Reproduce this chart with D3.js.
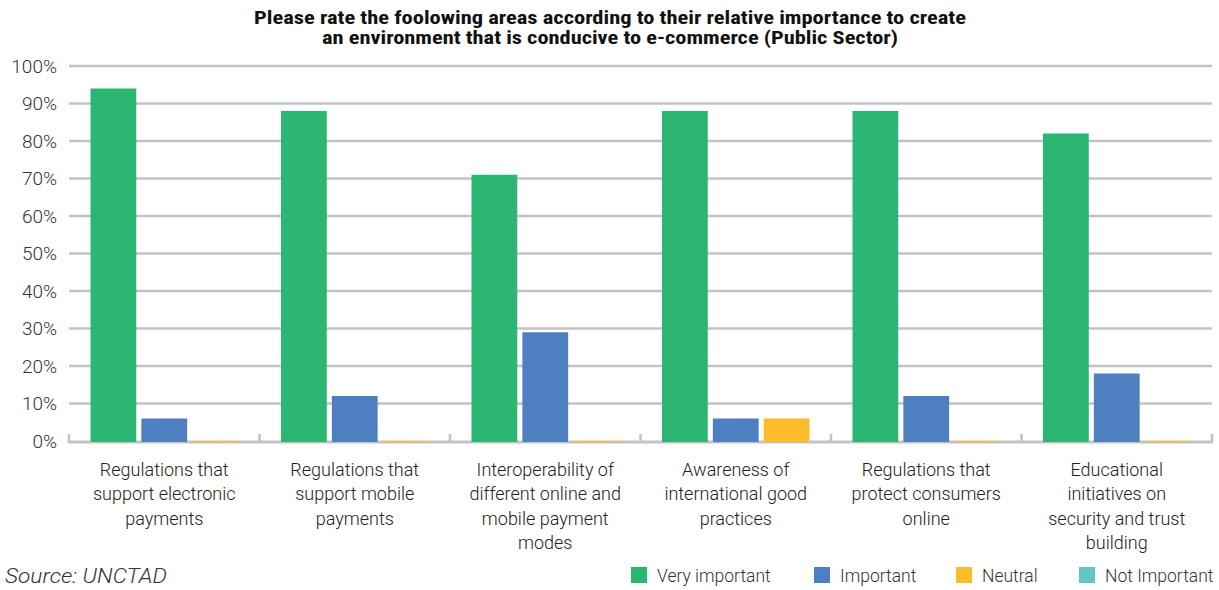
<!DOCTYPE html>
<html>
<head>
<meta charset="utf-8">
<script src="https://cdn.jsdelivr.net/npm/d3@7"></script>
<style>
  html, body { margin: 0; padding: 0; background: #fff; }
  svg { display: block; }
</style>
</head>
<body>
<svg id="chart" width="1219" height="590"></svg>
<script>
// Survey categories (label lines) and share of respondents per rating
const categories = [
  ["Regulations that", "support electronic", "payments"],
  ["Regulations that", "support mobile", "payments"],
  ["Interoperability of", "different online and", "mobile payment", "modes"],
  ["Awareness of", "international good", "practices"],
  ["Regulations that", "protect consumers", "online"],
  ["Educational", "initiatives on", "security and trust", "building"]
];
const veryImportant = [94, 88, 71, 88, 88, 82];
const important     = [6, 12, 29, 6, 12, 18];
const neutral       = [0, 0, 0, 6, 0, 0];
const legendLabels  = ["Very important", "Important", "Neutral", "Not Important"];
const yTicks        = [0, 10, 20, 30, 40, 50, 60, 70, 80, 90, 100];
const titleLines = [
  "Please rate the foolowing areas according to their relative importance to create",
  "an environment that is conducive to e-commerce (Public Sector)"
];
const sourceText = "Source: UNCTAD";

const colors = ["#2bb673", "#4e7fc1", "#fdbd2b", "#62c7c6"];
const series = [veryImportant, important, neutral];

const svg = d3.select("#chart");
const bodyFont = "Roboto, 'Liberation Sans', sans-serif";
const margin = { left: 69, right: 7, top: 66, bottom: 149 };
const W = 1219, H = 590;
const plotW = W - margin.left - margin.right;
const plotH = H - margin.top - margin.bottom;

const x0 = d3.scaleBand().domain(d3.range(categories.length))
  .range([margin.left, margin.left + plotW]).paddingInner(0).paddingOuter(0);
const x1 = d3.scaleBand().domain(d3.range(series.length))
  .range([21.5, x0.bandwidth() - 21.5]).paddingInner(0.1).paddingOuter(0);
const y = d3.scaleLinear().domain([0, 100]).range([margin.top + plotH, margin.top]);

// Title (two centred lines, condensed bold)
const titleWidths = [712, 576];
svg.append("g").selectAll("text").data(titleLines).join("text")
  .attr("x", 610).attr("y", (d, i) => 24 + i * 19.5)
  .attr("text-anchor", "middle")
  .attr("font-family", "'Liberation Sans Narrow', 'Roboto Condensed', 'Liberation Sans', sans-serif")
  .attr("font-weight", "bold").attr("font-size", 18).attr("fill", "#111")
  .attr("textLength", (d, i) => titleWidths[i]).attr("lengthAdjust", "spacingAndGlyphs")
  .text(d => d);

// Gridlines
svg.append("g").selectAll("line").data(yTicks.slice(1)).join("line")
  .attr("x1", margin.left).attr("x2", margin.left + plotW)
  .attr("y1", d => y(d)).attr("y2", d => y(d))
  .attr("stroke", "#c3c3c6").attr("stroke-width", 2.5);

// Y axis labels
const yAxis = d3.axisLeft(y).tickValues(yTicks).tickFormat(d => d + "%").tickSize(0).tickPadding(12);
const gy = svg.append("g").attr("transform", `translate(${margin.left},0)`).call(yAxis);
gy.select(".domain").remove();
gy.selectAll("text").attr("font-family", bodyFont).attr("font-size", 19)
  .attr("font-weight", 300).attr("fill", "#333");

// Category axis with tick marks between groups
const baseY = y(0);
const gx = svg.append("g");
gx.append("line").attr("x1", margin.left).attr("x2", margin.left + plotW)
  .attr("y1", baseY + 1).attr("y2", baseY + 1)
  .attr("stroke", "#c3c3c6").attr("stroke-width", 3);
gx.selectAll("line.tick").data(d3.range(categories.length + 1)).join("line")
  .attr("class", "tick")
  .attr("x1", i => i < categories.length ? x0(i) : x0(i - 1) + x0.bandwidth())
  .attr("x2", i => i < categories.length ? x0(i) : x0(i - 1) + x0.bandwidth())
  .attr("y1", baseY - 7).attr("y2", baseY + 2)
  .attr("stroke", "#c3c3c6").attr("stroke-width", 2.5);

// Bars
const groups = svg.append("g").selectAll("g").data(categories).join("g")
  .attr("transform", (d, i) => `translate(${x0(i)},0)`);
groups.selectAll("rect")
  .data((d, i) => series.map((s, k) => ({ k, v: s[i] })))
  .join("rect")
  .attr("x", d => x1(d.k))
  .attr("width", x1.bandwidth())
  .attr("y", d => d.v > 0 ? y(d.v) : y(0))
  .attr("height", d => d.v > 0 ? y(0) - y(d.v) + 1 : 1)
  .attr("fill", d => colors[d.k]);

// Category labels
gx.selectAll("text.cat").data(categories).join("text")
  .attr("class", "cat")
  .attr("text-anchor", "middle")
  .attr("font-family", bodyFont).attr("font-size", 18).attr("font-weight", 300)
  .attr("fill", "#222")
  .each(function (lines, i) {
    d3.select(this).selectAll("tspan").data(lines).join("tspan")
      .attr("x", x0(i) + x0.bandwidth() / 2)
      .attr("y", (d, j) => 476 + j * 24.3)
      .text(d => d);
  });

// Source note
svg.append("text").attr("x", 5).attr("y", 583)
  .attr("font-family", bodyFont).attr("font-size", 20).attr("font-weight", 300)
  .attr("font-style", "italic").attr("fill", "#333")
  .attr("textLength", 162).attr("lengthAdjust", "spacingAndGlyphs")
  .text(sourceText);

// Legend
const legendX = [631, 814, 956, 1079];
const lg = svg.append("g").selectAll("g").data(legendLabels).join("g")
  .attr("transform", (d, i) => `translate(${legendX[i]},567)`);
lg.append("rect").attr("width", 16).attr("height", 16).attr("fill", (d, i) => colors[i]);
lg.append("text").attr("x", 26).attr("y", 15)
  .attr("font-family", bodyFont).attr("font-size", 17.5).attr("font-weight", 300)
  .attr("fill", "#333").text(d => d);
</script>
</body>
</html>
